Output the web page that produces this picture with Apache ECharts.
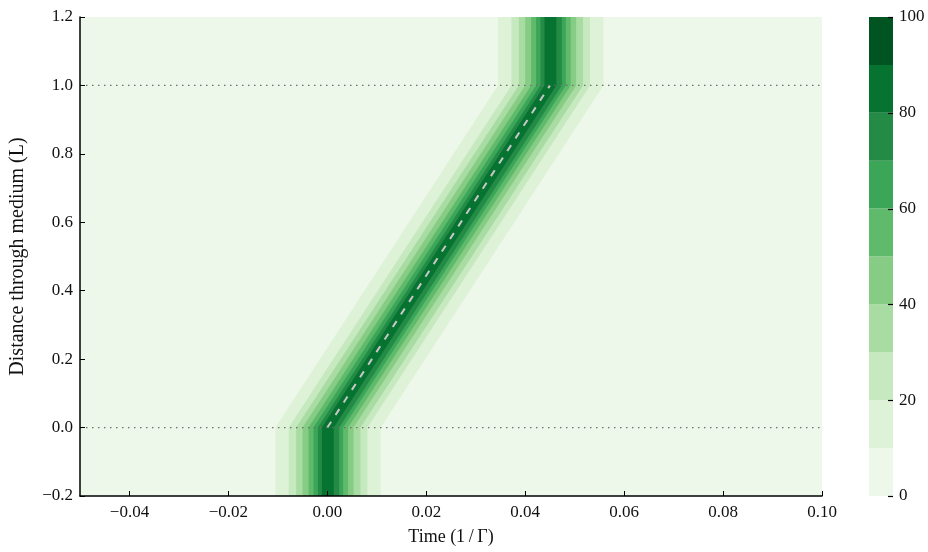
<!DOCTYPE html>
<html>
<head>
<meta charset="utf-8">
<script src="https://cdn.jsdelivr.net/npm/echarts@6/dist/echarts.min.js"></script>
<style>
  html, body { margin: 0; padding: 0; background: #ffffff; }
  #chart { width: 928px; height: 552px; }
</style>
</head>
<body>
<div id="chart"></div>
<script>
// Filled-contour levels (percent of peak intensity) and the colour of each band
const levels = [0, 10, 20, 30, 40, 50, 60, 70, 80, 90, 100];
const bandColors = ['#eef8ea', '#def2d8', '#c7e9c0', '#a9dca2', '#86cc85',
                    '#60ba6c', '#3ba558', '#238b45', '#077331', '#005422'];

// Contour lines drawn, with their edge offsets (in 1/Γ) from the pulse centre
const contourLevels = [10, 20, 30, 40, 50, 60, 70, 80];
const leftOffset  = [-0.0105, -0.0078, -0.0063, -0.0050, -0.0038, -0.0028, -0.0019, -0.0011];
const rightOffset = [ 0.0108,  0.0081,  0.0067,  0.0053,  0.0042,  0.0032,  0.0024,  0.0013];

// Pulse centre (time of peak) against distance through the medium
const pathTime = [0, 0, 0.045, 0.045];
const pathDist = [-0.2, 0, 1, 1.2];

// Group-delay guide line and the medium boundaries
const guideTime = [0, 0.045];
const guideDist = [0, 1];
const boundaryDist = [0, 1];

// Axis ranges and tick labels
const xRange = [-0.05, 0.10];
const yRange = [-0.2, 1.2];
const xTicks = [-0.04, -0.02, 0.00, 0.02, 0.04, 0.06, 0.08, 0.10];
const cbTicks = [0, 20, 40, 60, 80, 100];

const FONT = 'Liberation Serif';
const fmtMinus = (s) => s.replace('-', '\u2212');

const chart = echarts.init(document.getElementById('chart'), null, { renderer: 'canvas' });

// background band (0-10) followed by one filled region per contour level
const contourData = [{ value: [-1] }].concat(contourLevels.map((l, i) => ({ value: [i] })));

function renderContour(params, api) {
  const i = api.value(0);
  let points = [];
  let fill;
  if (i < 0) {
    points = [
      api.coord([xRange[0], yRange[0]]), api.coord([xRange[1], yRange[0]]),
      api.coord([xRange[1], yRange[1]]), api.coord([xRange[0], yRange[1]])
    ];
    fill = bandColors[0];
  } else {
    for (let k = 0; k < pathTime.length; k++) {
      points.push(api.coord([pathTime[k] + leftOffset[i], pathDist[k]]));
    }
    for (let k = pathTime.length - 1; k >= 0; k--) {
      points.push(api.coord([pathTime[k] + rightOffset[i], pathDist[k]]));
    }
    fill = bandColors[levels.indexOf(contourLevels[i])];
  }
  return { type: 'polygon', shape: { points }, style: { fill: fill, stroke: null } };
}

// colour-bar bands
const cbData = levels.slice(0, -1).map((lo, i) => ({ value: [lo, levels[i + 1], i] }));

function renderColorbar(params, api) {
  const p0 = api.coord([0, api.value(0)]);
  const p1 = api.coord([1, api.value(1)]);
  return {
    type: 'rect',
    shape: { x: p0[0], y: p1[1], width: p1[0] - p0[0], height: p0[1] - p1[1] },
    style: { fill: bandColors[api.value(2)] }
  };
}

// short inward tick marks on the colour bar's right edge
function renderColorbarTick(params, api) {
  const p = api.coord([1, api.value(0)]);
  const y = Math.round(p[1]) + 0.5;
  return {
    type: 'line',
    shape: { x1: p[0] - 5, y1: y, x2: p[0], y2: y },
    style: { stroke: '#000', lineWidth: 1.2 }
  };
}

const option = {
  animation: false,
  backgroundColor: '#ffffff',
  textStyle: { fontFamily: FONT },
  grid: [
    { left: 80, right: 106, top: 17, bottom: 56 },
    { left: 869, width: 24, top: 17, bottom: 56 }
  ],
  xAxis: [
    {
      gridIndex: 0, type: 'value', min: xRange[0], max: xRange[1], z: 10,
      name: 'Time (1\u2009/\u2009\u0393)', nameLocation: 'middle', nameGap: 32,
      nameTextStyle: { fontFamily: FONT, fontSize: 18, color: '#111' },
      axisLine: { onZero: false, lineStyle: { color: '#000', width: 1.5 } },
      axisTick: { inside: true, length: 5, customValues: xTicks, lineStyle: { color: '#000', width: 1 } },
      axisLabel: {
        customValues: xTicks, margin: 8, fontFamily: FONT, fontSize: 17, color: '#111',
        formatter: (v) => fmtMinus(v.toFixed(2))
      },
      splitLine: { show: false }
    },
    {
      gridIndex: 1, type: 'value', min: 0, max: 1, show: false
    }
  ],
  yAxis: [
    {
      gridIndex: 0, type: 'value', min: yRange[0], max: yRange[1], interval: 0.2, z: 10,
      name: 'Distance through medium (L)', nameLocation: 'middle', nameGap: 52,
      nameTextStyle: { fontFamily: FONT, fontSize: 20, color: '#111' },
      axisLine: { show: true, onZero: false, lineStyle: { color: '#000', width: 1.5 } },
      axisTick: { show: true, inside: true, length: 5, lineStyle: { color: '#000', width: 1 } },
      axisLabel: {
        margin: 7, fontFamily: FONT, fontSize: 17, color: '#111',
        formatter: (v) => fmtMinus(v.toFixed(1))
      },
      splitLine: { show: false }
    },
    {
      gridIndex: 1, type: 'value', min: 0, max: 100, interval: 20, position: 'right', z: 10,
      axisLine: { show: false },
      axisTick: { show: false },
      axisLabel: { margin: 6, fontFamily: FONT, fontSize: 17, color: '#111' },
      splitLine: { show: false }
    }
  ],
  series: [
    {
      type: 'custom', xAxisIndex: 0, yAxisIndex: 0, clip: true, silent: true,
      renderItem: renderContour, data: contourData, z: 1
    },
    {
      type: 'line', xAxisIndex: 0, yAxisIndex: 0, silent: true, symbol: 'none', z: 3,
      data: guideTime.map((t, i) => [t, guideDist[i]]),
      lineStyle: { color: '#c8c8c8', width: 2, type: [7, 8] }
    },
    ...boundaryDist.map((d) => ({
      type: 'line', xAxisIndex: 0, yAxisIndex: 0, silent: true, symbol: 'none', z: 4,
      data: [[xRange[0], d], [xRange[1], d]],
      lineStyle: { color: '#6e6e6e', width: 1.3, type: [1.5, 4.5] }
    })),
    {
      type: 'custom', xAxisIndex: 1, yAxisIndex: 1, silent: true,
      renderItem: renderColorbar, data: cbData, z: 1
    },
    {
      type: 'custom', xAxisIndex: 1, yAxisIndex: 1, silent: true,
      renderItem: renderColorbarTick, data: cbTicks.map((v) => [v]), z: 5
    }
  ]
};

chart.setOption(option);
</script>
</body>
</html>
